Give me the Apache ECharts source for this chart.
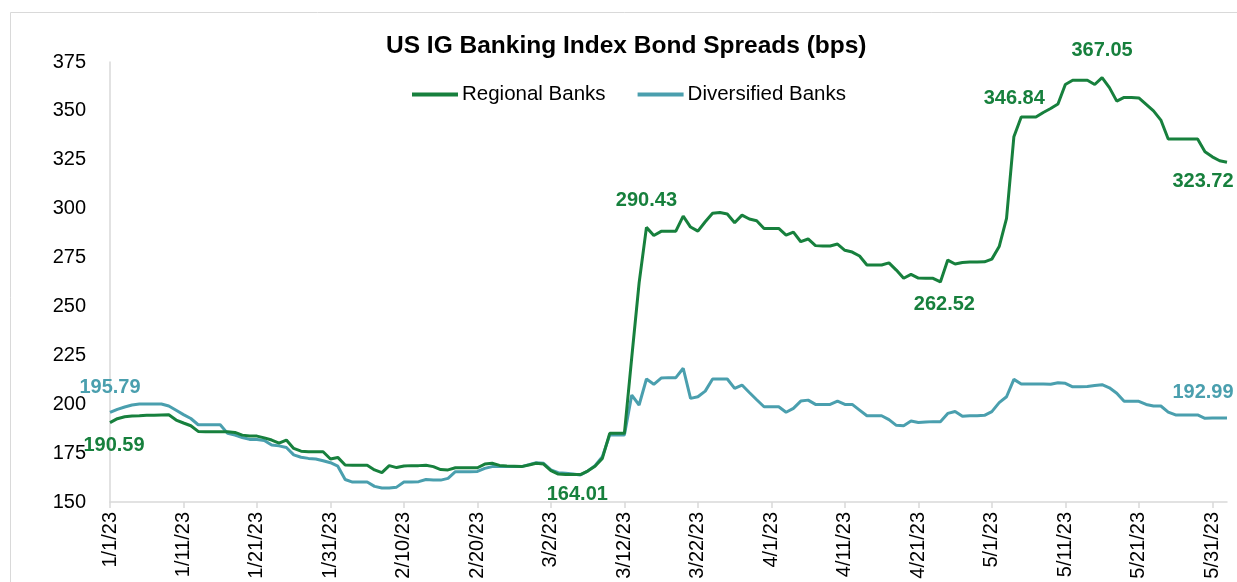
<!DOCTYPE html>
<html>
<head>
<meta charset="utf-8">
<title>US IG Banking Index Bond Spreads</title>
<script src="https://cdn.jsdelivr.net/npm/echarts@6/dist/echarts.min.js"></script>
<style>
  html, body { margin: 0; padding: 0; background: #fff; }
  #chart { width: 1237px; height: 582px; }
</style>
</head>
<body>
<div id="chart"></div>
<script>
// daily values from 1/1/23 to 6/2/23 (bps)
const regional = [
  190.59, 192.6, 193.6, 194.0, 194.1, 194.3, 194.3, 194.5, 194.6, 191.9,
  190.4, 189.0, 186.1, 185.9, 185.9, 185.9, 185.9, 185.6, 184.2, 183.7,
  183.7, 182.8, 181.7, 180.1, 181.7, 177.4, 176.0, 175.7, 175.7, 175.7,
  172.0, 172.8, 168.9, 168.8, 168.8, 168.8, 166.4, 165.0, 168.6, 167.6,
  168.4, 168.6, 168.6, 168.8, 168.1, 166.6, 166.4, 167.5, 167.5, 167.5,
  167.5, 169.4, 169.8, 168.7, 168.4, 168.3, 168.1, 168.9, 169.8, 169.4,
  166.0, 164.3, 164.1, 164.1, 164.01, 165.8, 168.3, 172.3, 185.1, 185.1,
  185.1, 224.0, 262.0, 290.43, 286.3, 288.4, 288.5, 288.5, 296.2, 290.6,
  288.5, 293.3, 297.6, 298.0, 297.3, 292.8, 296.7, 294.7, 293.8, 289.9,
  289.9, 289.9, 286.5, 288.0, 283.1, 284.5, 281.1, 280.9, 280.9, 281.9,
  278.7, 277.8, 275.8, 271.2, 271.2, 271.2, 272.3, 268.6, 264.4, 266.4,
  264.5, 264.4, 264.4, 262.52, 273.7, 271.7, 272.5, 272.7, 272.7, 272.8,
  274.2, 280.6, 295.0, 336.8, 346.84, 346.84, 346.84, 349.2, 351.2, 353.5,
  363.5, 365.7, 365.7, 365.7, 363.5, 367.05, 361.9, 355.0, 356.9, 356.9,
  356.6, 353.3, 350.0, 345.3, 335.6, 335.6, 335.6, 335.6, 335.6, 329.1,
  326.5, 324.5, 323.72
];
const diversified = [
  195.79, 197.4, 198.6, 199.6, 200.1, 200.1, 200.1, 200.1, 199.1, 196.9,
  194.7, 192.7, 189.5, 189.5, 189.5, 189.5, 185.1, 184.2, 183.0, 182.0,
  182.0, 181.5, 179.1, 178.7, 177.9, 174.1, 172.9, 172.3, 172.0, 171.1,
  170.1, 168.3, 161.5, 160.2, 160.2, 160.2, 158.0, 157.2, 157.2, 157.6,
  160.2, 160.2, 160.4, 161.5, 161.2, 161.2, 162.1, 165.5, 165.5, 165.5,
  165.6, 167.2, 168.1, 168.1, 168.1, 168.1, 168.1, 169.1, 170.1, 169.8,
  166.4, 165.0, 164.7, 164.3, 163.8, 165.8, 168.6, 173.2, 184.3, 184.3,
  184.3, 204.7, 199.6, 212.9, 210.2, 213.4, 213.6, 213.6, 218.4, 203.0,
  203.8, 206.7, 212.9, 212.9, 212.9, 208.1, 209.8, 206.0, 202.3, 198.7,
  198.7, 198.7, 195.9, 197.9, 201.6, 202.1, 199.9, 199.9, 199.9, 201.6,
  199.9, 199.9, 197.0, 194.1, 194.1, 194.1, 192.1, 189.2, 189.0, 191.4,
  190.7, 190.9, 191.1, 191.1, 195.3, 196.3, 193.8, 194.1, 194.1, 194.3,
  196.2, 200.8, 203.8, 212.7, 210.3, 210.3, 210.3, 210.3, 210.2, 211.0,
  210.7, 208.9, 208.9, 209.1, 209.6, 210.0, 208.4, 205.6, 201.5, 201.5,
  201.5, 199.9, 199.1, 199.1, 196.0, 194.5, 194.5, 194.5, 194.5, 192.8,
  193.0, 193.0, 192.99
];
const yTicks = [150, 175, 200, 225, 250, 275, 300, 325, 350, 375];

// calendar day categories
const dates = regional.map(function (_, i) {
  const d = new Date(2023, 0, 1 + i);
  return (d.getMonth() + 1) + '/' + d.getDate() + '/23';
});

const GREEN = '#17803d';
const TEAL = '#4a9fae';
const FONT = '"Liberation Sans", Arial, sans-serif';

// which points carry a value label, and where
const regionalLabels = {
  0: { position: 'bottom', distance: 13, offset: [4, 0] },
  64: { position: 'bottom', distance: 10, offset: [-3, 0] },
  73: { position: 'top', distance: 17 },
  113: { position: 'bottom', distance: 13, offset: [4, 0] },
  124: { position: 'top', distance: 9, offset: [-7, 0] },
  135: { position: 'top', distance: 17 },
  152: { position: 'bottom', distance: 9, offset: [-24, 0] }
};
const diversifiedLabels = {
  0: { position: 'top', distance: 15 },
  152: { position: 'top', distance: 15, offset: [-24, 0] }
};

function withLabels(values, labels, color) {
  return values.map(function (v, i) {
    if (!labels[i]) return v;
    return {
      value: v,
      label: Object.assign({
        show: true,
        color: color,
        fontWeight: 'bold',
        fontSize: 20,
        fontFamily: FONT,
        formatter: function (p) { return p.value.toFixed(2); }
      }, labels[i])
    };
  });
}

const chart = echarts.init(document.getElementById('chart'));
chart.setOption({
  animation: false,
  backgroundColor: '#fff',
  graphic: [{
    type: 'rect',
    shape: { x: 10.5, y: 12.5, width: 1260, height: 620 },
    style: { fill: 'none', stroke: '#d9d9d9', lineWidth: 1 },
    silent: true
  }],
  title: {
    text: 'US IG Banking Index Bond Spreads (bps)',
    left: 381,
    top: 29,
    textStyle: { fontFamily: FONT, fontSize: 24.5, fontWeight: 'bold', color: '#000' }
  },
  legend: {
    left: 407,
    top: 79,
    itemWidth: 46,
    itemHeight: 4,
    itemGap: 32,
    icon: 'rect',
    textStyle: { fontFamily: FONT, fontSize: 20.5, color: '#000', padding: [0, 0, 0, -1] },
    data: ['Regional Banks', 'Diversified Banks']
  },
  grid: { left: 110, right: 10, top: 62, bottom: 80, containLabel: false },
  xAxis: {
    type: 'category',
    data: dates,
    boundaryGap: false,
    axisLine: { lineStyle: { color: '#d9d9d9', width: 1.5 } },
    axisTick: { show: true, interval: 9, length: 6, lineStyle: { color: '#d9d9d9', width: 1.5 } },
    axisLabel: {
      interval: 9,
      rotate: 90,
      margin: 10,
      fontFamily: FONT,
      fontSize: 20,
      color: '#000'
    },
    splitLine: { show: false }
  },
  yAxis: {
    type: 'value',
    min: yTicks[0],
    max: yTicks[yTicks.length - 1],
    interval: 25,
    axisLine: { show: true, lineStyle: { color: '#d9d9d9', width: 1.5 } },
    axisTick: { show: false },
    axisLabel: { margin: 24, fontFamily: FONT, fontSize: 20, color: '#000' },
    splitLine: { show: false }
  },
  series: [
    {
      name: 'Regional Banks',
      type: 'line',
      data: withLabels(regional, regionalLabels, GREEN),
      color: GREEN,
      symbol: 'circle',
      symbolSize: 0,
      showSymbol: true,
      showAllSymbol: true,
      lineStyle: { color: GREEN, width: 3 },
      z: 3
    },
    {
      name: 'Diversified Banks',
      type: 'line',
      data: withLabels(diversified, diversifiedLabels, TEAL),
      color: TEAL,
      symbol: 'circle',
      symbolSize: 0,
      showSymbol: true,
      showAllSymbol: true,
      lineStyle: { color: TEAL, width: 3 },
      z: 2
    }
  ]
});
</script>
</body>
</html>
